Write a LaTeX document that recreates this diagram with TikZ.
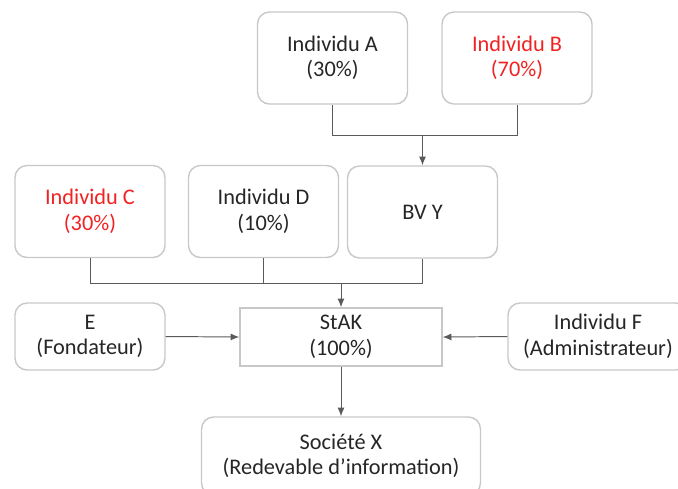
\documentclass[tikz,border=0pt]{standalone}
\usepackage{fontspec}
\setmainfont{Carlito}
\usetikzlibrary{arrows.meta}

\definecolor{boxgray}{HTML}{C8C8C8}
\definecolor{linegray}{HTML}{5A5A5A}
\definecolor{textgray}{HTML}{262626}
\definecolor{alertred}{HTML}{F22222}

\begin{document}
\begin{tikzpicture}[x=0.02cm, y=-0.02cm,
                        font=\fontsize{12.7}{14.5}\selectfont,
                        party node/.style={rectangle, rounded corners=0.24cm, draw=boxgray, thick,
                                           fill=white, text=textgray, align=center, inner sep=0pt,
                                           minimum width=3cm, minimum height=1.84cm},
                        role node/.style={party node, minimum height=1.34cm},
                        trust node/.style={rectangle, draw=boxgray, thick, fill=white, text=textgray,
                                           align=center, inner sep=0pt,
                                           minimum width=4.04cm, minimum height=1.16cm},
                        link/.style={draw=linegray, line width=0.55pt},
                        arrow/.style={link, -{Latex[length=5pt, width=4pt]}}]

      \useasboundingbox (0,0) rectangle (678,488);

      \node[party node] (A) at (332.5,58) {Individu A\\(30\%)};
      \node[party node, text=alertred] (B) at (517,58) {Individu B\\(70\%)};
      \node[party node, text=alertred] (C) at (90,211.5) {Individu C\\(30\%)};
      \node[party node] (D) at (263.5,211.5) {Individu D\\(10\%)};
      \node[party node] (BVY) at (422.5,212) {BV Y};
      \node[trust node] (StAK) at (341,337) {StAK\\(100\%)};
      \node[role node] (E) at (90,336.5) {E\\(Fondateur)};
      \node[role node, minimum width=3.6cm] (F) at (598,336.5) {Individu F\\(Administrateur)};
      \node[party node, minimum width=5.58cm, minimum height=1.56cm] (X) at (341,456)
            {Société X\\(Redevable d’information)};

      \coordinate (topjoin) at (422.5,135);
      \coordinate (midjoin) at (341,283);

      \draw[link] (A.south) |- (topjoin) -| (B.south);
      \draw[arrow] (topjoin) -- (BVY.north);
      \draw[link] (C.south) |- (midjoin);
      \draw[link] (D.south) |- (midjoin);
      \draw[link] (BVY.south) |- (midjoin);
      \draw[arrow] (midjoin) -- (StAK.north);
      \draw[arrow] (E.east) -- (StAK.west);
      \draw[arrow] (F.west) -- (StAK.east);
      \draw[arrow] (StAK.south) -- (X.north);

    \end{tikzpicture}
\end{document}
